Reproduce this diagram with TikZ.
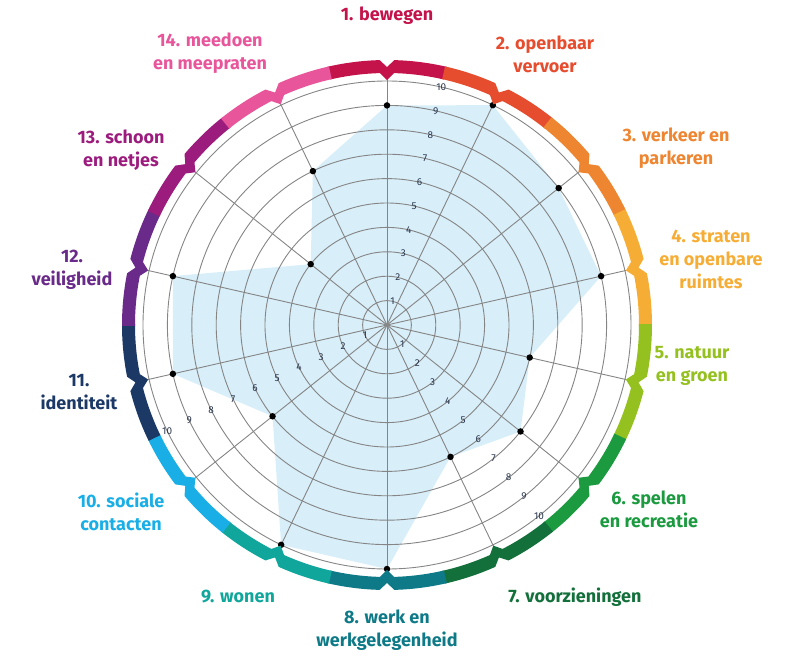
\documentclass[tikz,border=0pt]{standalone}
\usepackage{fontspec}
\setmainfont{Fira Sans}

% Colour definitions (band and theme text)
\definecolor{c1}{HTML}{C4124A}  \definecolor{c2}{HTML}{E64C2E}
\definecolor{c3}{HTML}{EE8530}  \definecolor{c4}{HTML}{F6AD35}
\definecolor{c5}{HTML}{95C120}  \definecolor{c6}{HTML}{1B9A3F}
\definecolor{c7}{HTML}{13703B}  \definecolor{c8}{HTML}{0F7A87}
\definecolor{c9}{HTML}{10A69B}  \definecolor{c10}{HTML}{1AAEE6}
\definecolor{c11}{HTML}{1C3966} \definecolor{c12}{HTML}{692A89}
\definecolor{c13}{HTML}{9C1C7E} \definecolor{c14}{HTML}{E8559A}
\definecolor{gridgray}{HTML}{858585}
\definecolor{areablue}{HTML}{D8EEF9}
\definecolor{tickcol}{HTML}{2E3A50}

\tikzset{
  score/.style={circle,fill=black,inner sep=0,minimum size=6.5},
  tick/.style={text=tickcol,font=\fontsize{10}{10}\selectfont,inner sep=0},
  theme/.style={font=\fontsize{18}{23}\selectfont\bfseries,align=center,inner sep=0}
}

\begin{document}
\begin{tikzpicture}[x=1pt,y=1pt]
    % Local styling definitions
    \tikzstyle{grid}  =[draw=gridgray,line width=0.9]
    \tikzstyle{area}  =[fill=areablue]

    \useasboundingbox (-387,-331) rectangle (398,325);

    % Drawing definitions
    \def\U{24.4}    % one step on the scale
    \def\Rin{252}   % inner edge of the band
    \def\Rout{265}  % outer edge of the band
    \def\Half{12.857}
    \coordinate (O) at (0,0);

    % Scores and spoke ends
    \foreach \i/\v in {1/9,2/10,3/9,4/9,5/6,6/7,7/6,8/10,9/10,10/6,11/9,12/9,13/4,14/7}{
      \pgfmathsetmacro\a{90-(\i-1)*360/14}
      \coordinate (P\i) at (\a:\v*\U);
      \coordinate (S\i) at (\a:245.5);
    }

    % Filled area
    \fill[area] (P1) \foreach \i in {2,...,14}{ -- (P\i)} -- cycle;

    % Circles and spokes
    \foreach \k in {1,...,10} \draw[grid] (O) circle (\k*\U);
    \foreach \i in {1,...,14} \draw[grid] (O) -- (S\i);

    % Scale numbers
    \foreach \k in {1,...,10}{
      \node[tick] (ta\k) at (77.14:\k*\U) {\k};
      \node[tick] (tb\k) at (-51.43:\k*\U) {\k};
      \node[tick] (tc\k) at (205.71:\k*\U) {\k};
    }

    % Score dots
    \foreach \i in {1,...,14} \node[score] (d\i) at (P\i) {};

    % Coloured band with a notch at every spoke
    \foreach \i in {1,...,14}{
      \pgfmathsetmacro\a{90-(\i-1)*360/14}
      \pgfmathsetmacro\b{\a+\Half+0.2}
      \pgfmathsetmacro\e{\a-\Half-0.2}
      \fill[c\i] (\b:\Rout) arc[start angle=\b,end angle=\a+1.6,radius=\Rout]
        -- (\a:\Rout-7) -- (\a-1.6:\Rout)
        arc[start angle=\a-1.6,end angle=\e,radius=\Rout]
        -- (\e:\Rin) arc[start angle=\e,end angle=\a-1.6,radius=\Rin]
        -- (\a:\Rin-7) -- (\a+1.6:\Rin)
        arc[start angle=\a+1.6,end angle=\b,radius=\Rin] -- cycle;
    }

    % Theme labels
    \node[theme,text=c1]  (th1)  at (0,309)     {1. bewegen};
    \node[theme,text=c2]  (th2)  at (158,271)   {2. openbaar\\vervoer};
    \node[theme,text=c3]  (th3)  at (289,177)   {3. verkeer en\\parkeren};
    \node[theme,text=c4]  (th4)  at (324,66)    {4. straten\\en openbare\\ruimtes};
    \node[theme,text=c5]  (th5)  at (305,-41)   {5. natuur\\en groen};
    \node[theme,text=c6]  (th6)  at (262,-184)  {6. spelen\\en recreatie};
    \node[theme,text=c7]  (th7)  at (188,-272)  {7. voorzieningen};
    \node[theme,text=c8]  (th8)  at (0,-305)    {8. werk en\\werkgelegenheid};
    \node[theme,text=c9]  (th9)  at (-149,-272) {9. wonen};
    \node[theme,text=c10] (th10) at (-266,-187) {10. sociale\\contacten};
    \node[theme,text=c11] (th11) at (-308,-67)  {11.\\identiteit};
    \node[theme,text=c12] (th12) at (-315,55)   {12.\\veiligheid};
    \node[theme,text=c13] (th13) at (-266,175)  {13. schoon\\en netjes};
    \node[theme,text=c14] (th14) at (-177,272)  {14. meedoen\\en meepraten};

\end{tikzpicture}
\end{document}
